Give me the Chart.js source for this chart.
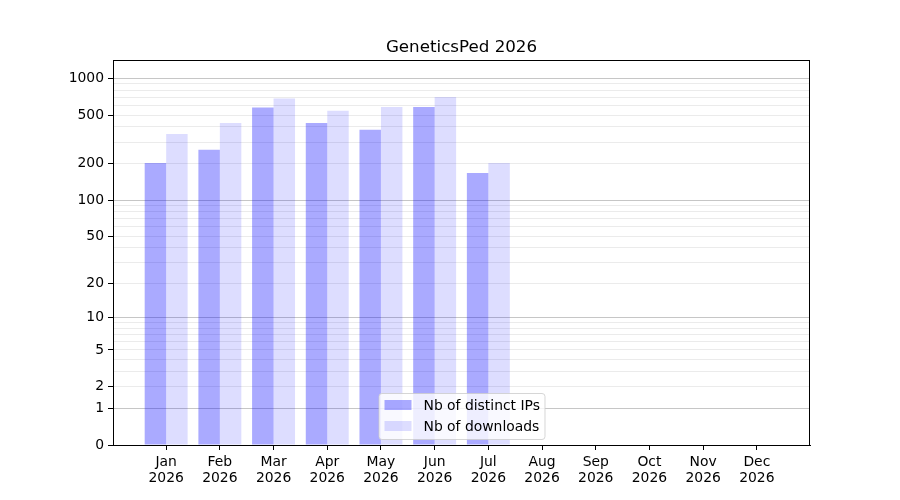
<!DOCTYPE html>
<html>
<head>
<meta charset="utf-8">
<script src="https://cdn.jsdelivr.net/npm/chart.js@4.4.1/dist/chart.umd.min.js"></script>
<style>
  body { margin: 0; background: #fff; }
  #wrap { width: 900px; height: 500px; }
</style>
</head>
<body>
<div id="wrap"><canvas id="chart" width="900" height="500"></canvas></div>
<script>
// data
const months = ['Jan', 'Feb', 'Mar', 'Apr', 'May', 'Jun', 'Jul', 'Aug', 'Sep', 'Oct', 'Nov', 'Dec'];
const year = '2026';
const distinctIPs = [202, 259, 575, 431, 378, 583, 167];
const downloads = [350, 431, 682, 541, 583, 704, 202];
const yLabelTicks = [0, 1, 2, 5, 10, 20, 50, 100, 200, 500, 1000];

// y axis is log10(1 + v)
const tf = v => Math.log10(1 + v);
const untf = t => Math.round(Math.pow(10, t) - 1);

const gridVals = [];
[1, 10, 100].forEach(p => {
  for (let d = 1; d <= 9; d++) gridVals.push(d * p);
});
gridVals.push(1000);
const allYTicks = Array.from(new Set([0, ...gridVals, ...yLabelTicks])).sort((a, b) => a - b);
const isPow10 = v => v === 1 || v === 10 || v === 100 || v === 1000;

const FONT = 'DejaVu Sans';

const extras = {
  id: 'extras',
  afterDraw(chart) {
    const { ctx, chartArea: a } = chart;
    ctx.save();
    // plot frame
    ctx.strokeStyle = '#000';
    ctx.lineWidth = 1;
    ctx.strokeRect(a.left + 0.5, a.top + 0.5, a.right - a.left - 1, a.bottom - a.top);
    // title
    ctx.fillStyle = '#000';
    ctx.font = '16.7px "' + FONT + '"';
    ctx.textAlign = 'center';
    ctx.textBaseline = 'alphabetic';
    ctx.fillText('GeneticsPed ' + year, (a.left + a.right) / 2, a.top - 8);
    // legend, lower center inside the plot
    const items = [
      { label: 'Nb of distinct IPs', color: 'rgba(0,0,255,0.333)' },
      { label: 'Nb of downloads', color: 'rgba(0,0,255,0.133)' }
    ];
    const w = 166, h = 46;
    const x0 = (a.left + a.right) / 2 - w / 2;
    const y0 = a.bottom - 6 - h;
    ctx.beginPath();
    ctx.roundRect(x0 + 0.5, y0 + 0.5, w, h, 3);
    ctx.fillStyle = 'rgba(255,255,255,0.8)';
    ctx.fill();
    ctx.strokeStyle = 'rgba(204,204,204,0.8)';
    ctx.stroke();
    ctx.font = '13.9px "' + FONT + '"';
    ctx.textAlign = 'left';
    ctx.textBaseline = 'middle';
    items.forEach((it, i) => {
      const cy = y0 + 12 + i * 21;
      ctx.fillStyle = it.color;
      ctx.fillRect(x0 + 6, cy - 5, 27, 10);
      ctx.fillStyle = '#000';
      ctx.fillText(it.label, x0 + 45, cy + 1);
    });
    ctx.restore();
  }
};

new Chart(document.getElementById('chart'), {
  type: 'bar',
  data: {
    datasets: [
      {
        label: 'Nb of distinct IPs',
        data: distinctIPs.map((v, i) => ({ x: i, y: tf(v) })),
        backgroundColor: 'rgba(0,0,255,0.333)'
      },
      {
        label: 'Nb of downloads',
        data: downloads.map((v, i) => ({ x: i, y: tf(v) })),
        backgroundColor: 'rgba(0,0,255,0.133)'
      }
    ]
  },
  options: {
    responsive: false,
    animation: false,
    devicePixelRatio: 1,
    layout: { padding: { top: 60, right: 90, bottom: 0, left: 0 } },
    categoryPercentage: 0.8,
    barPercentage: 1.0,
    plugins: {
      legend: { display: false },
      title: { display: false },
      tooltip: { enabled: false }
    },
    scales: {
      x: {
        type: 'linear',
        offset: false,
        min: -0.99,
        max: 11.99,
        afterFit: s => { s.height = 55; },
        afterBuildTicks: s => { s.ticks = months.map((m, i) => ({ value: i })); },
        grid: { offset: false, drawOnChartArea: false, drawTicks: true, tickLength: 5, tickColor: '#000' },
        border: { color: '#000', width: 1 },
        ticks: {
          autoSkip: false,
          maxRotation: 0,
          padding: 5,
          color: '#000',
          font: { family: FONT, size: 13.9, lineHeight: 1.12 },
          callback: v => [months[v], year]
        }
      },
      y: {
        type: 'linear',
        min: 0,
        max: 3.15,
        afterFit: s => { s.width = 113; },
        afterBuildTicks: s => { s.ticks = allYTicks.map(v => ({ value: tf(v) })); },
        grid: {
          color: c => {
            const v = untf(c.tick.value);
            if (v === 0) return 'rgba(0,0,0,0)';
            return isPow10(v) ? '#c6c6c6' : '#ebebeb';
          },
          tickColor: c => yLabelTicks.includes(untf(c.tick.value)) ? '#000' : 'rgba(0,0,0,0)',
          tickLength: 5,
          lineWidth: 1
        },
        border: { color: '#000', width: 1 },
        ticks: {
          autoSkip: false,
          padding: 4,
          color: '#000',
          font: { family: FONT, size: 13.9 },
          callback: v => {
            const n = untf(v);
            return yLabelTicks.includes(n) ? String(n) : '';
          }
        }
      }
    }
  },
  plugins: [extras]
});
</script>
</body>
</html>
